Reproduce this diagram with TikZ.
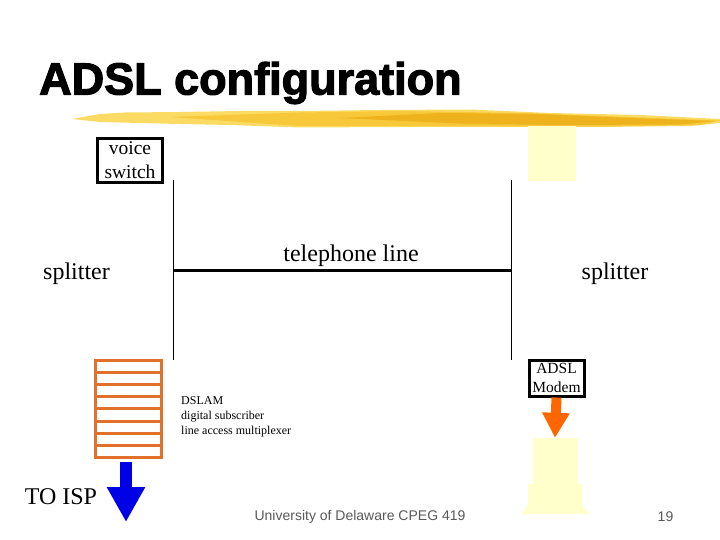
\documentclass[tikz,border=0pt]{standalone}
\usepackage{fontspec}
\setmainfont{Liberation Serif}
\newfontfamily\headfont[FakeBold=2.5]{Liberation Sans Bold}
\newfontfamily\footfont{Liberation Sans}
\usetikzlibrary{arrows.meta,positioning}
\definecolor{adslorange}{HTML}{E0702A}
\definecolor{adslblue}{HTML}{0000E6}
\definecolor{adsltangerine}{HTML}{FF6600}
\definecolor{adslcream}{HTML}{FFFFCC}
\definecolor{brushlight}{HTML}{FBDB63}
\definecolor{brushmid}{HTML}{F7C83A}
\definecolor{brushdark}{HTML}{EDB21C}

\begin{document}
\begin{tikzpicture}[x=1pt, y=-1pt,
    boxed/.style={rectangle, draw=black, fill=white, line width=3pt, inner sep=0pt,
                  align=center},
    plain/.style={inner sep=0pt, align=center},
    dslamrow/.style={rectangle, draw=adslorange, line width=3pt, inner sep=0pt,
                     minimum width=66pt, minimum height=12.25pt},
    cream/.style={rectangle, fill=adslcream, inner sep=0pt},
    footlab/.style={inner sep=0pt, font=\footfont\fontsize{14}{16}\selectfont, text=black!65}]
\useasboundingbox (0,0) rectangle (720,540);

% Title and brush stroke
\node[plain, anchor=base west, font=\headfont\fontsize{45}{48}\selectfont] (title) at (39,94.5) {ADSL configuration};
\fill[brushlight] (72,119) -- (100,114) -- (125,112.5) -- (180,112) -- (240,111) -- (300,111)
  -- (380,110) -- (470,109.5) -- (550,113) -- (640,115) -- (720,119) -- (720,123) -- (690,126)
  -- (600,127) -- (480,127) -- (400,127) -- (300,127.5) -- (230,125) -- (180,124) -- (100,122) -- cycle;
\fill[brushmid] (170,117) -- (300,112.5) -- (400,111) -- (520,113) -- (600,116) -- (720,120.5)
  -- (700,125) -- (600,126.5) -- (400,126) -- (300,126) -- cycle;
\fill[brushdark] (340,118) -- (440,113) -- (540,114) -- (630,118) -- (715,121) -- (680,124.5) -- (560,125)
  -- (470,124) -- cycle;

% Left side
\node[boxed, minimum width=65pt, minimum height=44pt, font=\fontsize{19.5}{24}\selectfont] (voice) at (130,160.5) {voice\\switch};
\node[plain, font=\fontsize{24}{26}\selectfont] (splitl) at (76.5,274) {splitter};

% Right side
\node[cream, minimum width=48pt, minimum height=55pt] (pctop) at (552,153.5) {};
\node[plain, font=\fontsize{24}{26}\selectfont] (splitr) at (615,274) {splitter};

% Telephone line with its two uprights
\coordinate (lefttop) at (173,180);
\coordinate (leftbot) at (173,360);
\coordinate (righttop) at (511,180);
\coordinate (rightbot) at (511,360);
\coordinate (linel) at (173,270);
\coordinate (liner) at (511,270);
\draw[line width=0.8pt] (lefttop) -- (leftbot);
\draw[line width=0.8pt] (righttop) -- (rightbot);
\draw[line width=3pt] (linel) -- (liner);
\node[plain, font=\fontsize{24}{26}\selectfont] (tel) at (351,256) {telephone line};

% DSLAM rack
\node[dslamrow] (row1) at (128.5,366.2) {};
\node[dslamrow] (row2) at (128.5,378.4) {};
\node[dslamrow] (row3) at (128.5,390.6) {};
\node[dslamrow] (row4) at (128.5,402.8) {};
\node[dslamrow] (row5) at (128.5,415) {};
\node[dslamrow] (row6) at (128.5,427.2) {};
\node[dslamrow] (row7) at (128.5,439.4) {};
\node[dslamrow] (row8) at (128.5,451.6) {};
\node[inner sep=0pt, align=left, anchor=north west, font=\fontsize{12}{14.8}\selectfont] (dslam) at (181,396.5)
  {DSLAM\\digital subscriber\\line access multiplexer};

% Uplink to the ISP
\coordinate (isp) at (126,522);
\draw[-{Triangle[length=35pt,width=36pt]}, line width=12pt, adslblue, shorten <=2.5pt] (row8.south -| isp) -- (isp);
\node[plain, font=\fontsize{24}{26}\selectfont] (toisp) at (61,497) {TO ISP};

% Modem and computer
\node[boxed, minimum width=55pt, minimum height=36pt, font=\fontsize{15.5}{19.5}\selectfont] (modem) at (556.5,378) {ADSL\\Modem};
\node[cream, minimum width=45pt, minimum height=46pt] (pcbody) at (555,461) {};
\node[cream, minimum width=54pt, minimum height=22pt] (pcbase) at (555,495) {};
\fill[adslcream] (pcbase.south west) -- (520,514) -- (590,514) -- (pcbase.south east) -- cycle;
\draw[-{Triangle[length=25pt,width=26pt]}, line width=10pt, adsltangerine] (modem.south) -- (pcbody.north);

% Footer
\node[footlab] (uni) at (360,516.5) {University of Delaware CPEG 419};
\node[footlab] (page) at (665.5,516.5) {19};

\end{tikzpicture}
\end{document}
